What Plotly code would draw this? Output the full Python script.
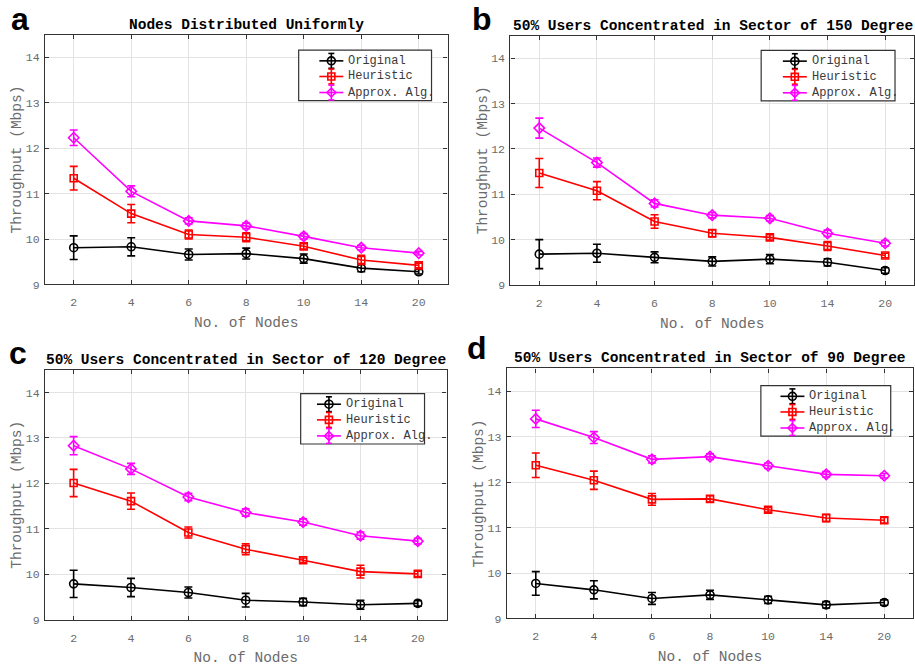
import plotly.graph_objects as go

nodes = ["2", "4", "6", "8", "10", "14", "20"]
series_names = ["Original", "Heuristic", "Approx. Alg."]

# Panel a: Nodes Distributed Uniformly
a_orig = [9.81, 9.83, 9.66, 9.68, 9.57, 9.36, 9.28]
a_orig_err = [0.26, 0.20, 0.12, 0.12, 0.10, 0.08, 0.05]
a_heur = [11.34, 10.56, 10.10, 10.04, 9.84, 9.54, 9.42]
a_heur_err = [0.26, 0.20, 0.10, 0.10, 0.06, 0.10, 0.05]
a_appr = [12.23, 11.05, 10.40, 10.29, 10.06, 9.81, 9.69]
a_appr_err = [0.17, 0.12, 0.07, 0.06, 0.06, 0.05, 0.04]

# Panel b: 150 degree
b_orig = [9.68, 9.70, 9.61, 9.52, 9.57, 9.50, 9.32]
b_orig_err = [0.32, 0.20, 0.12, 0.10, 0.10, 0.08, 0.06]
b_heur = [11.47, 11.08, 10.40, 10.14, 10.05, 9.86, 9.65]
b_heur_err = [0.32, 0.20, 0.15, 0.08, 0.06, 0.10, 0.05]
b_appr = [12.46, 11.70, 10.80, 10.54, 10.47, 10.14, 9.92]
b_appr_err = [0.22, 0.10, 0.08, 0.06, 0.06, 0.07, 0.06]

# Panel c: 120 degree
c_orig = [9.79, 9.71, 9.60, 9.43, 9.39, 9.33, 9.36]
c_orig_err = [0.30, 0.20, 0.12, 0.15, 0.08, 0.10, 0.06]
c_heur = [12.01, 11.61, 10.92, 10.55, 10.31, 10.06, 10.01]
c_heur_err = [0.30, 0.18, 0.12, 0.12, 0.05, 0.14, 0.06]
c_appr = [12.83, 12.32, 11.70, 11.36, 11.15, 10.85, 10.73]
c_appr_err = [0.20, 0.12, 0.08, 0.08, 0.07, 0.08, 0.06]

# Panel d: 90 degree
d_orig = [9.77, 9.63, 9.44, 9.52, 9.41, 9.30, 9.35]
d_orig_err = [0.26, 0.20, 0.13, 0.10, 0.08, 0.07, 0.06]
d_heur = [12.37, 12.04, 11.62, 11.63, 11.39, 11.21, 11.16]
d_heur_err = [0.27, 0.20, 0.13, 0.07, 0.05, 0.08, 0.06]
d_appr = [13.39, 12.98, 12.50, 12.56, 12.36, 12.17, 12.14]
d_appr_err = [0.19, 0.13, 0.08, 0.06, 0.06, 0.06, 0.05]

titles = [
    "Nodes Distributed Uniformly",
    "50% Users Concentrated in Sector of 150 Degree",
    "50% Users Concentrated in Sector of 120 Degree",
    "50% Users Concentrated in Sector of 90 Degree",
]
letters = ["a", "b", "c", "d"]
y_ticks = [9, 10, 11, 12, 13, 14]

panels = [
    [(a_orig, a_orig_err), (a_heur, a_heur_err), (a_appr, a_appr_err)],
    [(b_orig, b_orig_err), (b_heur, b_heur_err), (b_appr, b_appr_err)],
    [(c_orig, c_orig_err), (c_heur, c_heur_err), (c_appr, c_appr_err)],
    [(d_orig, d_orig_err), (d_heur, d_heur_err), (d_appr, d_appr_err)],
]

W, H = 915, 670
# plot boxes in pixels: (left, right, top, bottom)
boxes = [
    (45, 448, 35, 287.5),
    (511, 916, 36, 288),
    (45, 447, 373.7, 626.3),
    (507.3, 914.3, 372.3, 625),
]
# legend boxes: (left, top, width, marker_dx, text_dx)
legend_boxes = [
    (299, 50.7, 133, 32.7, 47.5),
    (762, 51, 134, 33.7, 48.5),
    (301, 397.7, 124, 28.3, 43),
    (761.7, 389.7, 130, 31.6, 46.3),
]
legend_rows = [10.8, 26.6, 42.8]
legend_h = 51
title_y = [25, 26, 364, 362]
letter_pos = [(20, 19), (483, 19), (18, 357), (478, 352)]

colors = ["black", "#ff0000", "#ff00ff"]
symbols = ["circle-open", "square-open", "diamond-open"]
msize = [8, 7, 8]

mono = "Liberation Mono, Courier New, monospace"


def px(X):
    return X / W


def py(Y):
    return 1 - Y / H


fig = go.Figure()
annotations = []
shapes = []
layout_axes = {}

for p in range(4):
    l, r, t, b = boxes[p]
    xd = [l / W, min(r / W, 1.0)]
    yd = [1 - b / H, 1 - t / H]
    sfx = "" if p == 0 else str(p + 1)
    for s in range(3):
        vals, errs = panels[p][s]
        fig.add_trace(go.Scatter(
            x=nodes, y=vals,
            error_y=dict(type="data", array=errs, visible=True,
                         color=colors[s], thickness=1.6, width=4),
            mode="lines+markers",
            name=series_names[s],
            showlegend=False,
            line=dict(color=colors[s], width=1.6),
            marker=dict(symbol=symbols[s], size=msize[s],
                        color=colors[s], line=dict(width=1.6, color=colors[s])),
            xaxis="x" + sfx, yaxis="y" + sfx,
        ))
    layout_axes["xaxis" + sfx] = dict(
        domain=xd, anchor="y" + sfx, type="category",
        range=[-0.5, 6.5], showline=True, mirror="ticks",
        linecolor="#333333", linewidth=1.2,
        ticks="inside", ticklen=4, tickcolor="#333333",
        showgrid=True, gridcolor="#e3e3e3", gridwidth=1,
        tickfont=dict(family=mono, size=11.5, color="#6b6b6b"),
        ticklabelstandoff=7,
        title=dict(text="No. of Nodes",
                   font=dict(family=mono, size=14.5, color="#6b6b6b"),
                   standoff=8),
        zeroline=False,
    )
    layout_axes["yaxis" + sfx] = dict(
        domain=yd, anchor="x" + sfx,
        range=[9, 14.5], tickvals=y_ticks,
        showline=True, mirror="ticks",
        linecolor="#333333", linewidth=1.2,
        ticks="inside", ticklen=4, tickcolor="#333333",
        showgrid=True, gridcolor="#e3e3e3", gridwidth=1,
        tickfont=dict(family=mono, size=11.5, color="#6b6b6b"),
        ticklabelstandoff=2,
        title=dict(text="Throughput (Mbps)",
                   font=dict(family=mono, size=14.5, color="#6b6b6b"),
                   standoff=0),
        zeroline=False,
    )
    # title and panel letter
    annotations.append(dict(
        text="<b>%s</b>" % titles[p], x=(l + min(r, 916)) / 2 / W, y=py(title_y[p]),
        xref="paper", yref="paper", xanchor="center", yanchor="middle",
        showarrow=False, font=dict(family=mono, size=14.5, color="black"),
    ))
    annotations.append(dict(
        text="<b>%s</b>" % letters[p], x=px(letter_pos[p][0]), y=py(letter_pos[p][1]),
        xref="paper", yref="paper", xanchor="center", yanchor="middle",
        showarrow=False, font=dict(family="Liberation Sans, Arial, sans-serif", size=32, color="black"),
    ))
    # legend box
    lx, ly, lw, mdx, tdx = legend_boxes[p]
    shapes.append(dict(type="rect", xref="paper", yref="paper",
                       x0=px(lx), x1=px(lx + lw), y0=py(ly + legend_h), y1=py(ly),
                       line=dict(color="#333333", width=1.2), fillcolor="white", layer="above"))
    for s in range(3):
        cy = ly + legend_rows[s]
        cx = lx + mdx
        c = colors[s]
        lw_ = 1.6
        shapes.append(dict(type="line", xref="paper", yref="paper",
                           x0=px(cx - 12), x1=px(cx + 12), y0=py(cy), y1=py(cy),
                           line=dict(color=c, width=lw_), layer="above"))
        shapes.append(dict(type="line", xref="paper", yref="paper",
                           x0=px(cx), x1=px(cx), y0=py(cy - 7.5), y1=py(cy + 7.5),
                           line=dict(color=c, width=lw_), layer="above"))
        for dy in (-7.5, 7.5):
            shapes.append(dict(type="line", xref="paper", yref="paper",
                               x0=px(cx - 3), x1=px(cx + 3), y0=py(cy + dy), y1=py(cy + dy),
                               line=dict(color=c, width=lw_), layer="above"))
        if s == 0:
            shapes.append(dict(type="circle", xref="paper", yref="paper",
                               x0=px(cx - 4), x1=px(cx + 4), y0=py(cy + 4), y1=py(cy - 4),
                               line=dict(color=c, width=lw_), layer="above"))
        elif s == 1:
            shapes.append(dict(type="rect", xref="paper", yref="paper",
                               x0=px(cx - 3.5), x1=px(cx + 3.5), y0=py(cy + 3.5), y1=py(cy - 3.5),
                               line=dict(color=c, width=lw_), layer="above"))
        else:
            d = 4.5
            path = "M %f,%f L %f,%f L %f,%f L %f,%f Z" % (
                px(cx), py(cy - d), px(cx + d), py(cy), px(cx), py(cy + d), px(cx - d), py(cy))
            shapes.append(dict(type="path", xref="paper", yref="paper", path=path,
                               line=dict(color=c, width=lw_), layer="above"))
        annotations.append(dict(
            text=series_names[s], x=px(lx + tdx), y=py(cy),
            xref="paper", yref="paper", xanchor="left", yanchor="middle",
            showarrow=False, font=dict(family=mono, size=12, color="#3a3a3a"),
        ))

fig.update_layout(
    width=W, height=H,
    margin=dict(l=0, r=0, t=0, b=0),
    paper_bgcolor="white", plot_bgcolor="white",
    annotations=annotations,
    shapes=shapes,
    showlegend=False,
    **layout_axes,
)

fig.write_html("out.html", config={"displayModeBar": False},
               post_script="document.body.style.margin='0';")
